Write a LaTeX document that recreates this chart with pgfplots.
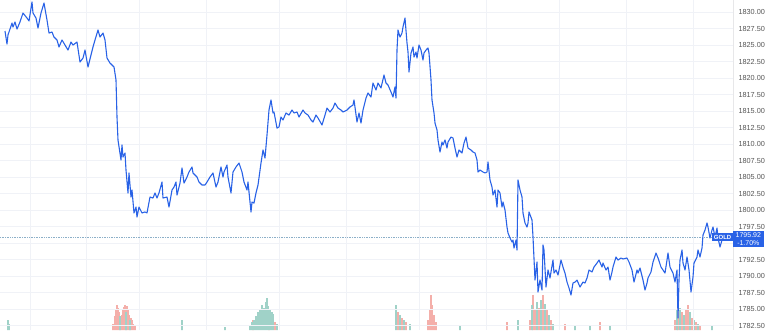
\documentclass[border=0pt]{standalone}
\usepackage{pgfplots}
\pgfplotsset{compat=1.18}
\usepackage{fontspec}
\setmainfont{Liberation Sans}
\definecolor{tvblue}{RGB}{41,98,230}
\definecolor{volred}{RGB}{244,175,170}
\definecolor{volgreen}{RGB}{160,210,200}
\definecolor{gridc}{RGB}{240,242,247}
\definecolor{labc}{RGB}{85,85,85}
\definecolor{refc}{RGB}{140,175,200}
\begin{document}
\begin{tikzpicture}
\path[use as bounding box] (0,0) rectangle (770pt,330pt);
% volume
\begin{axis}[at={(0,0)}, anchor=south west, scale only axis, width=733pt, height=330pt,
  xmin=0, xmax=733, ymin=0, ymax=330, hide axis, clip=true]
\addplot[ybar, bar shift=0pt, bar width=1.7pt, fill=volred, draw=none] coordinates {
(113,6)(115,14)(116,20)(117,25)(118,22)(119,18)(121,10)(122,15)(123,20)(124,23)(125,25)(127,24)(128,20)(129,15)(131,12)(132,10)(133,6)(135,4)
(253,10)(269,15)(275,8)(398,18)(402,12)(406,8)(428,10)(430,20)(431,35)(432,25)(434,15)(436,8)
(507,8)(530,10)(533,35)(535,20)(539,22)(543,35)(547,20)(551,10)(565,6)(600,8)
(675,10)(678,25)(682,18)(686,20)(688,25)(692,12)(696,8)(700,4)};
\addplot[ybar, bar shift=0pt, bar width=1.7pt, fill=volgreen, draw=none] coordinates {
(8,10)(9,6)(120,14)(126,18)(130,10)(182,10)(225,3)
(250,4)(252,8)(254,10)(256,14)(258,18)(260,20)(262,25)(264,22)(266,28)(267,32)(268,24)(270,20)(272,18)(273,16)(277,6)
(396,25)(400,15)(404,10)(410,6)(460,5)(518,10)
(532,25)(537,28)(541,30)(545,26)(549,15)(553,6)(575,4)(590,5)(610,5)
(677,20)(680,22)(684,15)(690,18)(694,10)(698,6)(712,4)};
\end{axis}
% price
\begin{axis}[at={(0,0)}, anchor=south west, scale only axis, width=733pt, height=330pt,
  xmin=0, xmax=733, ymin=1781.82, ymax=1831.82,
  axis y line*=right, axis x line*=bottom,
  x axis line style={draw=none}, y axis line style={draw=gridc!60!gray!40},
  xtick={30,86,139,206,279,346,419,486,559,626,693}, xticklabels={},
  ytick={1782.5,1785,1787.5,1790,1792.5,1797.5,1800,1802.5,1805,1807.5,1810,1812.5,1815,1817.5,1820,1822.5,1825,1827.5,1830},
  extra y ticks={1795}, extra y tick labels={},
  major tick length=0pt,
  xmajorgrids, ymajorgrids, grid style={gridc, line width=0.8pt},
  extra y tick style={grid style={gridc, line width=0.8pt}},
  yticklabel style={font=\fontsize{7.3}{8}\selectfont, text=labc, anchor=west, xshift=2pt,
    /pgf/number format/fixed, /pgf/number format/fixed zerofill, /pgf/number format/precision=2,
    /pgf/number format/1000 sep={}, /pgf/number format/assume math mode=true},
  clip mode=individual]
\addplot[densely dotted, color=refc, line width=0.7pt] coordinates {(0,1795.92) (733,1795.92)};
\addplot[tvblue, line width=1.1pt, line join=round] coordinates {
(5,1827.12)(7,1825.15)(8,1826.52)(12,1828.33)(13,1827.73)(15,1828.49)(17,1827.42)(20,1828.49)(23,1829.85)(27,1829.09)
(29,1828.64)(32,1831.52)(33,1829.85)(36,1829.09)(38,1827.58)(41,1829.85)(44,1831.36)(47,1828.79)(49,1826.82)(52,1826.97)
(54,1826.21)(57,1825.76)(59,1824.70)(62,1825.76)(65,1825.00)(68,1824.24)(71,1825.45)(73,1825.00)(77,1825.45)(80,1822.42)
(83,1823.03)(85,1824.24)(88,1821.67)(93,1824.70)(95,1825.76)(98,1827.27)(100,1826.21)(103,1826.82)(105,1825.76)(107,1823.03)
(110,1822.27)(114,1821.67)(116,1819.70)(117,1814.09)(118,1810.61)(121,1807.58)(122,1809.85)(123,1808.03)(125,1808.64)(126,1806.06)
(128,1802.58)(129,1805.61)(131,1801.97)(132,1803.03)(134,1799.55)(136,1800.45)(137,1798.94)(139,1800.45)(142,1799.55)(145,1799.70)
(147,1799.55)(150,1801.97)(153,1801.82)(155,1802.58)(157,1801.82)(159,1802.58)(162,1804.24)(163,1801.82)(167,1801.97)(169,1800.45)
(172,1803.03)(174,1803.48)(176,1804.24)(177,1802.27)(180,1804.09)(182,1806.36)(184,1804.09)(187,1805.00)(189,1805.76)(192,1806.52)
(193,1805.61)(197,1805.00)(199,1804.24)(202,1803.79)(205,1803.79)(207,1804.24)(210,1805.00)(213,1805.61)(216,1803.48)(218,1804.24)
(221,1806.52)(223,1805.00)(224,1805.76)(227,1806.82)(228,1805.00)(231,1802.58)(233,1805.76)(236,1806.52)(239,1807.12)(242,1805.76)
(244,1804.24)(247,1803.03)(248,1804.24)(251,1799.70)(252,1801.21)(254,1801.06)(256,1802.58)(258,1803.79)(261,1807.12)(263,1809.09)
(265,1807.88)(267,1811.36)(269,1815.15)(271,1816.67)(273,1814.70)(274,1814.85)(277,1812.42)(279,1812.58)(281,1814.09)(283,1813.64)
(286,1814.70)(289,1814.39)(292,1815.15)(294,1814.70)(297,1814.85)(299,1814.09)(303,1815.15)(305,1814.70)(308,1814.39)(311,1813.64)
(313,1813.33)(316,1814.39)(318,1813.94)(322,1812.88)(325,1814.39)(327,1815.45)(330,1814.85)(333,1815.45)(335,1816.21)(338,1815.45)
(341,1815.15)(343,1814.85)(347,1815.15)(350,1815.61)(353,1815.91)(354,1816.67)(357,1813.33)(359,1814.70)(361,1813.18)(363,1815.15)
(366,1816.97)(368,1817.73)(371,1817.12)(373,1819.24)(376,1818.18)(378,1819.24)(381,1818.49)(384,1820.45)(386,1819.24)(388,1818.94)
(391,1817.88)(393,1817.12)(395,1818.64)(396,1816.97)(397,1824.24)(398,1827.27)(400,1826.21)(402,1826.82)(403,1827.73)(405,1829.09)
(407,1825.30)(408,1823.94)(409,1820.91)(411,1823.79)(413,1824.70)(414,1823.18)(416,1823.94)(417,1823.03)(419,1825.00)(421,1824.24)
(423,1822.73)(424,1823.79)(426,1824.24)(428,1824.55)(429,1823.79)(431,1819.70)(432,1816.67)(434,1814.70)(435,1813.18)(437,1812.12)
(438,1810.61)(440,1808.79)(442,1810.30)(443,1809.85)(445,1810.61)(447,1809.39)(448,1810.30)(451,1811.06)(453,1810.91)(455,1809.39)
(457,1808.03)(459,1809.09)(462,1808.64)(464,1810.15)(466,1811.06)(468,1809.39)(471,1809.09)(473,1808.79)(475,1808.64)(477,1807.58)
(478,1805.76)(480,1806.06)(483,1805.76)(485,1805.61)(487,1805.76)(488,1807.27)(490,1804.55)(492,1803.48)(493,1802.27)(495,1803.03)
(497,1800.45)(498,1803.03)(500,1802.58)(502,1800.45)(503,1801.21)(505,1800.00)(507,1797.42)(508,1796.52)(510,1795.76)(512,1795.15)
(513,1795.45)(514,1794.24)(516,1795.45)(517,1793.94)(518,1804.55)(520,1803.03)(522,1801.97)(523,1799.55)(525,1798.03)(527,1797.42)
(528,1798.03)(529,1799.70)(532,1798.49)(533,1795.91)(535,1789.39)(537,1792.12)(538,1787.58)(540,1789.39)(542,1787.88)(543,1794.70)
(544,1793.94)(546,1788.33)(548,1790.91)(550,1789.70)(553,1792.42)(554,1790.45)(556,1790.91)(558,1790.15)(561,1792.42)(563,1791.36)
(565,1790.45)(567,1789.09)(569,1788.18)(571,1787.12)(573,1788.94)(575,1789.09)(577,1789.39)(580,1788.33)(583,1789.09)(585,1788.94)
(587,1789.70)(589,1790.91)(592,1790.61)(594,1791.36)(597,1791.97)(599,1792.42)(602,1791.36)(603,1791.97)(606,1790.91)(608,1791.36)
(610,1789.39)(612,1790.61)(613,1791.36)(616,1792.88)(618,1792.42)(621,1792.73)(623,1792.58)(627,1792.73)(629,1792.12)(632,1790.91)
(634,1789.09)(637,1790.91)(638,1790.45)(640,1791.21)(643,1789.39)(645,1787.88)(647,1788.94)(648,1789.70)(651,1790.61)(653,1792.12)
(656,1793.48)(658,1792.73)(661,1791.36)(663,1790.91)(665,1790.45)(667,1792.42)(668,1793.48)(670,1791.36)(673,1790.45)(675,1789.09)
(677,1790.91)(678,1783.64)(679,1789.39)(680,1792.42)(682,1793.94)(683,1791.97)(685,1790.91)(687,1792.88)(689,1790.91)(691,1787.58)
(693,1789.85)(694,1791.97)(697,1792.88)(698,1793.94)(700,1792.88)(702,1794.24)(703,1796.21)(705,1796.97)(707,1798.03)(708,1797.42)
(710,1795.76)(712,1796.97)(713,1797.42)(715,1795.91)(717,1797.27)(718,1795.76)(720,1794.39)(722,1795.45)(723,1796.21)(726,1795.91)
(729,1795.92)};
\node[fill=tvblue, text=white, font=\fontsize{6}{7}\selectfont\bfseries, inner xsep=1.5pt, inner ysep=1.5pt, anchor=east]
  at (axis cs:733,1795.92) {GOLD};
\node[fill=tvblue, text=white, font=\fontsize{7}{7.5}\selectfont, align=center, inner xsep=2.5pt, inner ysep=1.8pt, anchor=west]
  at (axis cs:733,1795.62) {1795.92\\-1.70\%};
\end{axis}
\end{tikzpicture}
\end{document}
